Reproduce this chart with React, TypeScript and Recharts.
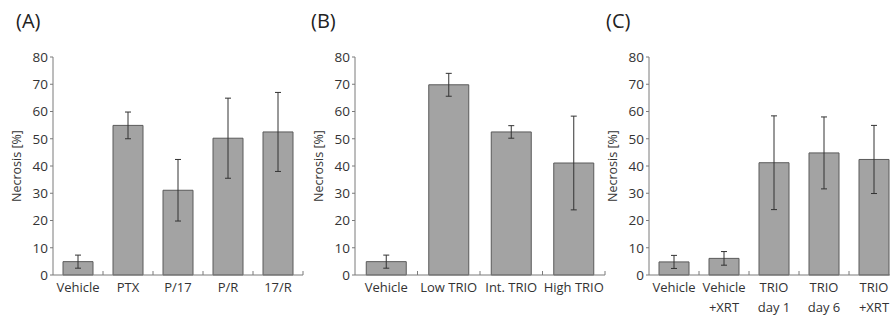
import React from 'react';
import { BarChart, Bar, XAxis, YAxis, ErrorBar } from 'recharts';

// panel A
const catsA = ['Vehicle', 'PTX', 'P/17', 'P/R', '17/R'];
const necrosisA = [4.9, 54.9, 31.1, 50.2, 52.5];
const errA = [2.4, 4.9, 11.3, 14.7, 14.5];

// panel B
const catsB = ['Vehicle', 'Low TRIO', 'Int. TRIO', 'High TRIO'];
const necrosisB = [4.9, 69.8, 52.5, 41.1];
const errB = [2.4, 4.2, 2.3, 17.2];

// panel C (two-line labels split on \n)
const catsC = ['Vehicle', 'Vehicle\n+XRT', 'TRIO\nday 1', 'TRIO\nday 6', 'TRIO\n+XRT'];
const necrosisC = [4.8, 6.1, 41.2, 44.8, 42.4];
const errC = [2.4, 2.5, 17.2, 13.2, 12.5];

const yTicks = [0, 10, 20, 30, 40, 50, 60, 70, 80];

const FONT = '"Open Sans", "Noto Sans", sans-serif';
const TEXT = '#333';
const AXIS = '#7a7a7a';
const TICK_MARGIN = 6;

const CategoryTick = (props: any) => {
  const { x, y, payload, width, visibleTicksCount } = props;
  const band = width / (visibleTicksCount || 1);
  const base = y - TICK_MARGIN;
  const lines = String(payload.value).split('\n');
  return (
    <g>
      <line x1={x + band / 2} x2={x + band / 2} y1={base} y2={base - 4} stroke={AXIS} />
      <text x={x} y={y} textAnchor="middle" fill={TEXT} fontSize={13} fontFamily={FONT}>
        {lines.map((l, i) => (
          <tspan key={i} x={x} dy={i === 0 ? '0.85em' : 20}>
            {l}
          </tspan>
        ))}
      </text>
    </g>
  );
};

interface PanelProps {
  tag: string;
  cats: string[];
  values: number[];
  errors: number[];
  left: number;
  marginLeft: number;
  gap: string;
}

const W = 320;
const H = 322;

const Panel: React.FC<PanelProps> = ({ tag, cats, values, errors, left, marginLeft, gap }) => {
  const data = cats.map((c, i) => ({ name: c, value: values[i], err: errors[i] }));
  const plotRight = marginLeft + 40 + 250;
  return (
    <div style={{ position: 'absolute', left, top: 0, width: W, height: H }}>
      <div
        style={{
          position: 'absolute',
          left: 16,
          top: 8,
          fontFamily: FONT,
          fontSize: 20,
          lineHeight: '26px',
          color: '#222',
        }}
      >
        {tag}
      </div>
      <BarChart
        width={W}
        height={H}
        data={data}
        barCategoryGap={gap}
        margin={{ top: 57, right: W - plotRight, left: marginLeft, bottom: 0 }}
      >
        <XAxis
          dataKey="name"
          interval={0}
          stroke={AXIS}
          tickLine={false}
          tickSize={0}
          tickMargin={TICK_MARGIN}
          height={47}
          tick={<CategoryTick />}
        />
        <YAxis
          domain={[0, 80]}
          ticks={yTicks}
          width={40}
          stroke={AXIS}
          tickSize={3}
          tickMargin={2}
          tick={{ fill: TEXT, fontSize: 13.5, fontFamily: FONT }}
          label={{
            value: 'Necrosis [%]',
            angle: -90,
            position: 'insideLeft',
            offset: 4,
            style: { textAnchor: 'middle', fill: TEXT, fontSize: 12.5, fontFamily: FONT },
          }}
        />
        <Bar dataKey="value" fill="#a3a3a3" stroke="#5a5a5a" strokeWidth={1} isAnimationActive={false}>
          <ErrorBar dataKey="err" width={3} stroke="#333" strokeWidth={1} isAnimationActive={false} />
        </Bar>
      </BarChart>
    </div>
  );
};

const App: React.FC = () => {
  return (
    <div
      style={{
        position: 'absolute',
        left: 0,
        top: 0,
        width: 890,
        height: 322,
        overflow: 'hidden',
        background: '#fff',
      }}
    >
      <Panel tag="(A)" cats={catsA} values={necrosisA} errors={errA} left={0} marginLeft={13} gap="20%" />
      <Panel tag="(B)" cats={catsB} values={necrosisB} errors={errB} left={295} marginLeft={20} gap="18%" />
      <Panel tag="(C)" cats={catsC} values={necrosisC} errors={errC} left={590} marginLeft={19} gap="20%" />
    </div>
  );
};

export default App;
